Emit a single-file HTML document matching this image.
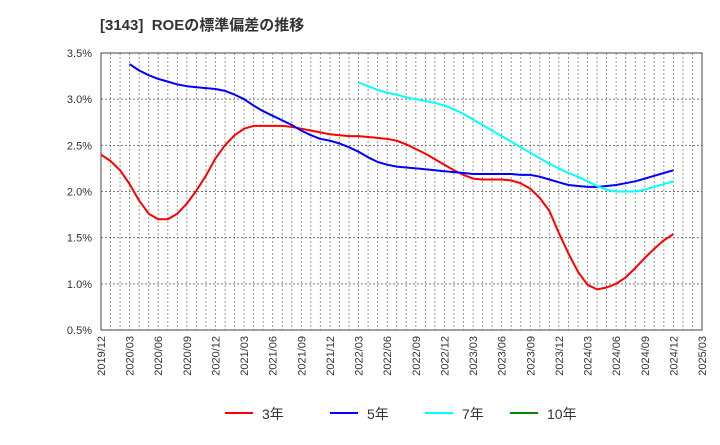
<!DOCTYPE html>
<html><head><meta charset="utf-8"><style>
body{margin:0;background:#fff;width:720px;height:440px;overflow:hidden;font-family:"Liberation Sans","Noto Sans CJK JP",sans-serif}
</style></head><body>
<svg id="c" width="720" height="440" xmlns="http://www.w3.org/2000/svg">
<text x="100" y="30" font-size="15" font-weight="bold" fill="#333" font-family="Liberation Sans, Noto Sans CJK JP, sans-serif">[3143]&#160;&#160;ROEの標準偏差の推移</text>
</svg>
<script>
const xTickLabels=["2019/12","2020/03","2020/06","2020/09","2020/12","2021/03","2021/06","2021/09","2021/12","2022/03","2022/06","2022/09","2022/12","2023/03","2023/06","2023/09","2023/12","2024/03","2024/06","2024/09","2024/12","2025/03"];
const yTicks=[0.5,1.0,1.5,2.0,2.5,3.0,3.5];
const red3=[2.40,2.33,2.23,2.08,1.90,1.76,1.70,1.70,1.76,1.87,2.01,2.17,2.36,2.50,2.61,2.68,2.71,2.71,2.71,2.71,2.70,2.68,2.66,2.64,2.62,2.61,2.60,2.60,2.59,2.58,2.57,2.55,2.51,2.46,2.41,2.35,2.29,2.23,2.18,2.14,2.13,2.13,2.13,2.12,2.09,2.03,1.93,1.79,1.55,1.33,1.13,0.99,0.94,0.96,1.00,1.07,1.17,1.28,1.38,1.47,1.54];
const blue5Start=3;
const blue5=[3.38,3.31,3.26,3.22,3.19,3.16,3.14,3.13,3.12,3.11,3.09,3.05,3.00,2.93,2.87,2.82,2.77,2.72,2.66,2.61,2.57,2.55,2.52,2.48,2.43,2.37,2.32,2.29,2.27,2.26,2.25,2.24,2.23,2.22,2.21,2.20,2.19,2.19,2.19,2.19,2.19,2.18,2.18,2.16,2.13,2.10,2.07,2.06,2.05,2.05,2.06,2.07,2.09,2.11,2.14,2.17,2.20,2.23];
const cyan7Start=27;
const cyan7=[3.18,3.14,3.10,3.07,3.05,3.02,3.00,2.98,2.96,2.93,2.89,2.84,2.78,2.72,2.66,2.60,2.54,2.48,2.42,2.36,2.30,2.25,2.20,2.16,2.11,2.06,2.02,2.00,2.00,2.00,2.02,2.05,2.08,2.11];
const green10=[];
const svg=document.getElementById('c');const NS='http://www.w3.org/2000/svg';
const L=101,R=702,T=53,B=330,NM=63;
const xs=i=>L+(R-L)*i/NM;
const ys=v=>B-(v-0.5)/3*(B-T);
function mk(t,a){const e=document.createElementNS(NS,t);for(const k in a)e.setAttribute(k,a[k]);svg.appendChild(e);return e;}
for(let i=1;i<NM;i++){const g=mk('line',{x1:xs(i),x2:xs(i),y1:T,y2:B,stroke:'#999','stroke-dasharray':'2,2','stroke-width':1});

}
yTicks.forEach(v=>{const y=ys(v);const g=mk('line',{x1:L,x2:R,y1:y,y2:y,stroke:'#777','stroke-dasharray':'2,2','stroke-width':1});


const t=mk('text',{x:92,y:y+4,'text-anchor':'end','font-size':11,fill:'#333'});t.textContent=v.toFixed(1)+'%';

});
const fr=mk('rect',{x:L,y:T,width:R-L,height:B-T,fill:'none',stroke:'#444','stroke-width':1});


xTickLabels.forEach((s,i)=>{const x=xs(i*3);const t=mk('text',{x:0,y:0,'text-anchor':'end','font-size':11,fill:'#333',transform:`translate(${x+4},${B+6}) rotate(-90)`});t.textContent=s;

});
function series(arr,start,color,name){if(!arr.length)return;const p=arr.map((v,i)=>xs(start+i).toFixed(1)+','+ys(v).toFixed(1)).join(' ');
const e=mk('polyline',{points:p,fill:'none',stroke:color,'stroke-width':2,'stroke-linejoin':'round'});

}
series(red3,0,'#f00','line-3yr');
series(blue5,blue5Start,'#00f','line-5yr');
series(cyan7,cyan7Start,'#0ff','line-7yr');
series(green10,0,'#080','line-10yr');
const leg=[['3年','#f00',225],['5年','#00f',330],['7年','#0ff',425],['10年','#080',510]];
leg.forEach(([s,c,x])=>{const l=mk('line',{x1:x,x2:x+28,y1:413,y2:413,stroke:c,'stroke-width':2});


const t=mk('text',{x:x+37,y:419,'font-size':14,fill:'#333'});t.textContent=s;

});
</script>
</body></html>
